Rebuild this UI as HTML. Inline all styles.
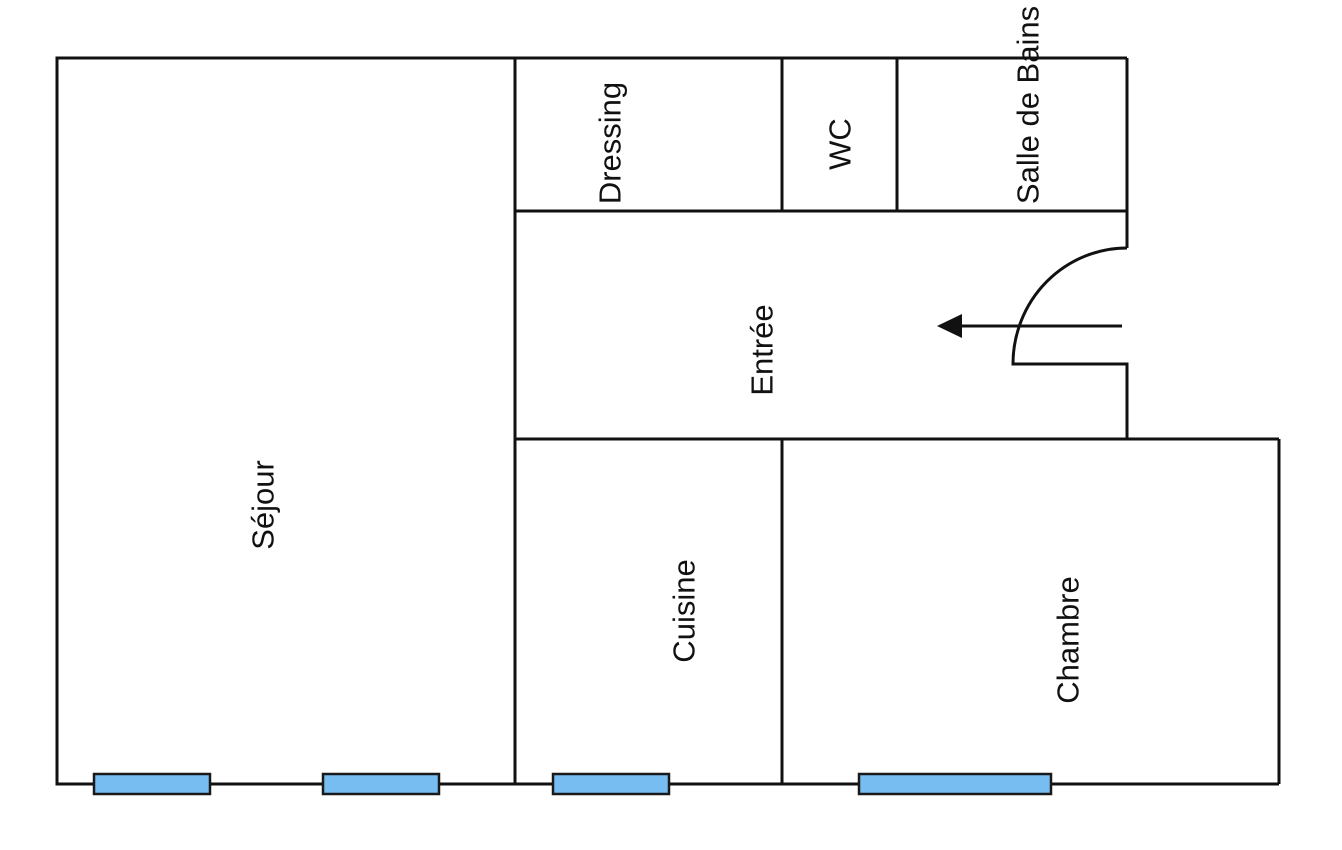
<!DOCTYPE html>
<html><head><meta charset="utf-8"><style>
html,body{margin:0;padding:0;background:#fff;width:1342px;height:850px;overflow:hidden}
text{font-family:"Liberation Sans",sans-serif;font-size:31px;fill:#111}
</style></head><body>
<svg width="1342" height="850" viewBox="0 0 1342 850" xmlns="http://www.w3.org/2000/svg">
<g fill="none" stroke="#111" stroke-width="3" stroke-linejoin="miter">
<rect x="57" y="58" width="458" height="726"/>
<line x1="515" y1="58" x2="1127" y2="58"/>
<line x1="1127" y1="58" x2="1127" y2="248"/>
<line x1="515" y1="211" x2="1127" y2="211"/>
<line x1="782" y1="58" x2="782" y2="211"/>
<line x1="897" y1="58" x2="897" y2="211"/>
<line x1="515" y1="439" x2="1279" y2="439"/>
<line x1="1279" y1="439" x2="1279" y2="784"/>
<line x1="515" y1="784" x2="1279" y2="784"/>
<line x1="782" y1="439" x2="782" y2="784"/>
<path d="M1127 248 A114 116 0 0 0 1013 364 L1127 364 L1127 439"/>
<line x1="1122" y1="326" x2="955" y2="326"/>
</g>
<polygon points="937,326 962,314 962,338" fill="#111"/>
<g fill="#78bdf2" stroke="#1a1a1a" stroke-width="2.5">
<rect x="94" y="774" width="116" height="20"/>
<rect x="323" y="774" width="116" height="20"/>
<rect x="553" y="774" width="116" height="20"/>
<rect x="859" y="774" width="192" height="20"/>
</g>
<g text-anchor="middle" dominant-baseline="central">
<text transform="translate(610,143) rotate(-90)">Dressing</text>
<text transform="translate(840,144) rotate(-90)">WC</text>
<text transform="translate(1028,105) rotate(-90)">Salle de Bains</text>
<text transform="translate(762,350) rotate(-90)">Entrée</text>
<text transform="translate(263,505) rotate(-90)">Séjour</text>
<text transform="translate(684,611) rotate(-90)">Cuisine</text>
<text transform="translate(1068,640) rotate(-90)">Chambre</text>
</g>
</svg>
</body></html>
